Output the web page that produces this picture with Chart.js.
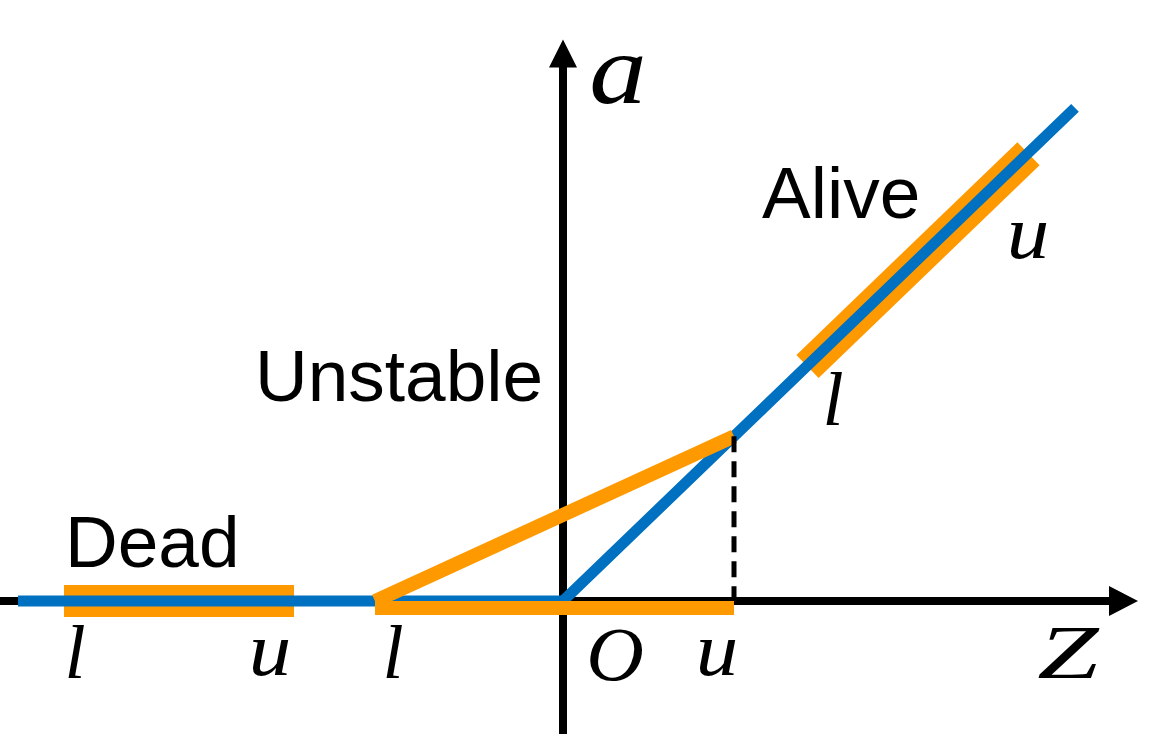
<!DOCTYPE html>
<html>
<head>
<meta charset="utf-8">
<script src="https://cdn.jsdelivr.net/npm/chart.js@4"></script>
<style>
  html, body { margin: 0; padding: 0; background: #fff; }
  canvas { display: block; }
</style>
</head>
<body>
<canvas id="relu" width="1165" height="734"></canvas>
<script>
// ReLU curve a = max(0, z), sampled at its end points and the kink
const reluZ = [-5.45, 0, 5.12];
const reluA = [0, 0, 5.12];

// pre-activation bounds [l, u] of the three neuron states
const deadBounds = [-4.99, -2.69];
const unstableBounds = [-1.88, 1.71];
const aliveBounds = [2.44, 4.65];

// axis extents (z and a)
const zRange = [-5.63, 6.02];
const aRange = [-1.38, 6.24];

const BLUE = '#0070C0';
const ORANGE = '#FF9900';

const pts = (xs, ys) => xs.map((x, i) => ({ x, y: ys[i] }));

const line = (data, color, width, order, extra) => Object.assign({
  data, borderColor: color, borderWidth: width, showLine: true,
  pointRadius: 0, fill: false, order, clip: false, tension: 0
}, extra || {});

const datasets = [
  // axes
  line(pts([zRange[0], 5.47], [0, 0]), '#000', 8, 9),
  line(pts([0, 0], [aRange[0], 5.55]), '#000', 8, 9),
  // dead / alive relaxations (thick bands under the curve)
  line(pts(deadBounds, [0, 0]), ORANGE, 32, 8),
  line(pts(aliveBounds, aliveBounds), ORANGE, 32, 8, { shift: [0.5, 0.5] }),
  // relu
  line(pts(reluZ, reluA), BLUE, 11, 5),
  // unstable triangle relaxation
  line(pts(unstableBounds, [0, 0]), ORANGE, 14, 3, { shift: [0, 7] }),
  line(pts(unstableBounds, [0, unstableBounds[1]]), ORANGE, 14, 3),
  // dashed drop from (u, u) to the axis
  line(pts([unstableBounds[1], unstableBounds[1]], [unstableBounds[1], 0]), '#000', 5, 2,
       { borderDash: [16, 9] })
];

const labels = [
  { t: 'a', x: 0.55, y: 5.17, math: true, size: 100, sx: 1.15 },
  { t: 'Alive', x: 1.99, y: 3.98 },
  { t: 'u', x: 4.65, y: 3.56, math: true, sx: 1.12 },
  { t: 'l', x: 2.70, y: 1.83, math: true },
  { t: 'Unstable', x: -3.08, y: 2.08 },
  { t: 'Dead', x: -4.98, y: 0.35 },
  { t: 'l', x: -4.88, y: -0.80, math: true },
  { t: 'u', x: -2.93, y: -0.77, math: true, sx: 1.12 },
  { t: 'l', x: -1.70, y: -0.80, math: true },
  { t: 'O', x: 0.52, y: -0.82, math: true, sx: 1.05 },
  { t: 'u', x: 1.54, y: -0.77, math: true, sx: 1.12 },
  { t: 'Z', x: 5.05, y: -0.80, math: true, sx: 1.45 }
];

const overlay = {
  id: 'overlay',
  beforeDatasetDraw(chart, args) {
    const ds = chart.data.datasets[args.index];
    if (ds.shift) {
      chart.ctx.save();
      chart.ctx.translate(ds.shift[0], ds.shift[1]);
    }
  },
  afterDatasetDraw(chart, args) {
    if (chart.data.datasets[args.index].shift) chart.ctx.restore();
  },
  afterDatasetsDraw(chart) {
    const { ctx, scales: { x, y } } = chart;
    const px = v => x.getPixelForValue(v);
    const py = v => y.getPixelForValue(v);
    ctx.save();
    ctx.fillStyle = '#000';

    // arrow heads
    ctx.beginPath();
    ctx.moveTo(px(5.75), py(0));
    ctx.lineTo(px(5.46), py(0) - 15);
    ctx.lineTo(px(5.46), py(0) + 15);
    ctx.closePath();
    ctx.fill();

    ctx.beginPath();
    ctx.moveTo(px(0), py(5.83));
    ctx.lineTo(px(0) - 14, py(5.54));
    ctx.lineTo(px(0) + 14, py(5.54));
    ctx.closePath();
    ctx.fill();

    // text
    labels.forEach(l => {
      if (l.math) {
        ctx.font = `italic ${l.size || 76}px "Liberation Serif"`;
        ctx.textAlign = 'center';
      } else {
        ctx.font = `${l.size || 73}px "Liberation Sans"`;
        ctx.textAlign = 'left';
      }
      ctx.textBaseline = 'alphabetic';
      ctx.save();
      ctx.translate(px(l.x), py(l.y));
      ctx.scale(l.sx || 1, 1);
      ctx.fillText(l.t, 0, 0);
      ctx.restore();
    });
    ctx.restore();
  }
};

new Chart(document.getElementById('relu'), {
  type: 'scatter',
  data: { datasets },
  options: {
    responsive: false,
    devicePixelRatio: 1,
    animation: false,
    layout: { padding: 0 },
    plugins: { legend: { display: false }, tooltip: { enabled: false } },
    scales: {
      x: { type: 'linear', min: zRange[0], max: zRange[1], display: false },
      y: { type: 'linear', min: aRange[0], max: aRange[1], display: false }
    }
  },
  plugins: [overlay]
});
</script>
</body>
</html>
